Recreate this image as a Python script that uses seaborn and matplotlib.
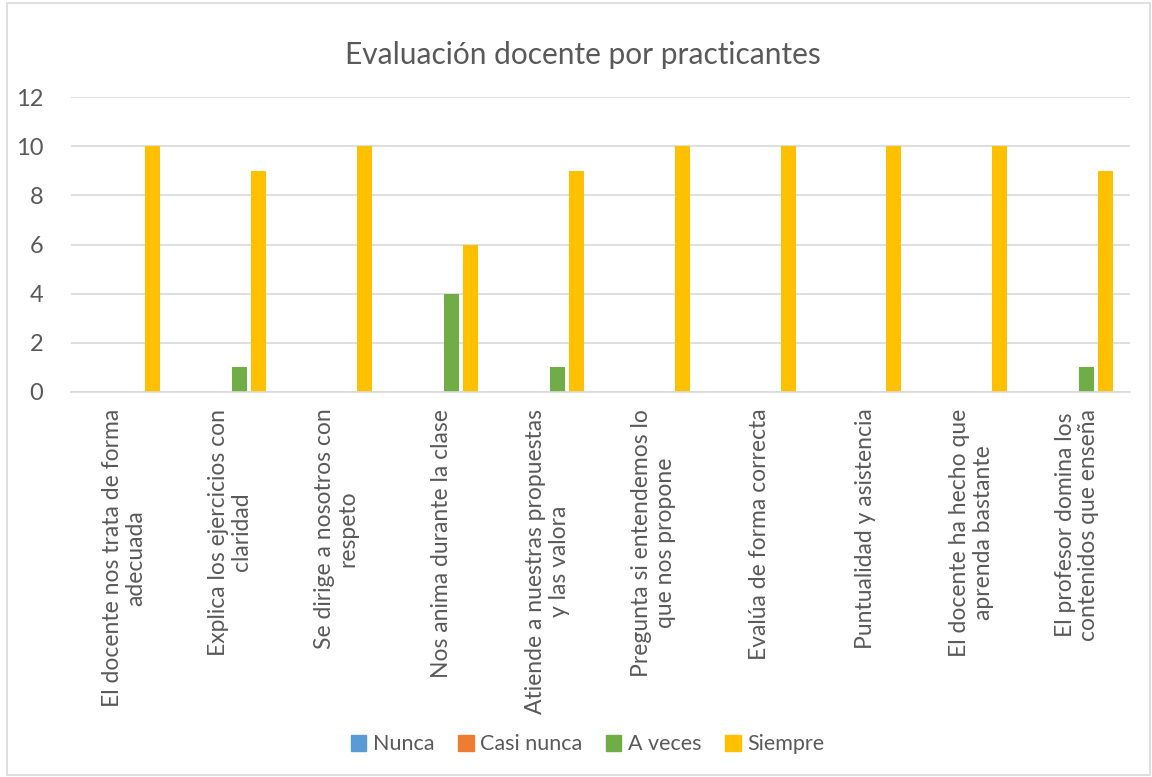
import pandas as pd
import matplotlib.pyplot as plt
import seaborn as sns
from matplotlib.patches import Rectangle

# data
categories = [
    "El docente nos trata de forma\nadecuada",
    "Explica los ejercicios con\nclaridad",
    "Se dirige a nosotros con\nrespeto",
    "Nos anima durante la clase",
    "Atiende a nuestras propuestas\ny las valora",
    "Pregunta si entendemos lo\nque nos propone",
    "Evalúa de forma correcta",
    "Puntualidad y asistencia",
    "El docente ha hecho que\naprenda bastante",
    "El profesor domina los\ncontenidos que enseña",
]
series = ["Nunca", "Casi nunca", "A veces", "Siempre"]
nunca = [0, 0, 0, 0, 0, 0, 0, 0, 0, 0]
casi_nunca = [0, 0, 0, 0, 0, 0, 0, 0, 0, 0]
a_veces = [0, 1, 0, 4, 1, 0, 0, 0, 0, 1]
siempre = [10, 9, 10, 6, 9, 10, 10, 10, 10, 9]
colors = ["#5B9BD5", "#ED7D31", "#70AD47", "#FFC000"]

df = pd.DataFrame({
    "Categoria": categories * 4,
    "Serie": [s for s in series for _ in categories],
    "Valor": nunca + casi_nunca + a_veces + siempre,
})

sns.set_style("white")
plt.rcParams['font.family'] = ['Lato', 'DejaVu Sans']

fig = plt.figure(figsize=(11.52, 7.77), dpi=100)
ax = fig.add_axes([0.0617, 0.4955, 0.9193, 0.3795])

sns.barplot(
    data=df, x="Categoria", y="Valor", hue="Serie",
    order=categories, hue_order=series, palette=colors, saturation=1,
    width=0.72, gap=0.21, linewidth=0, ax=ax, legend=False
)

ax.set_ylim(0, 12)
ax.set_yticks(range(0, 13, 2))
ax.set_xlim(-0.5, len(categories) - 0.5)
ax.yaxis.grid(True, color="#d9d9d9", linewidth=1.2)
ax.set_axisbelow(True)
for side in ["top", "right", "left"]:
    ax.spines[side].set_visible(False)
ax.spines["bottom"].set_color("#d9d9d9")
ax.spines["bottom"].set_linewidth(1.2)
ax.tick_params(length=0, labelsize=17, colors="#595959", pad=12)
ax.tick_params(axis="y", pad=20)
ax.set_xticks(range(len(categories)))
ax.set_xticklabels(categories, rotation=90, ha="center", va="top",
                   multialignment="center", fontsize=16.5, linespacing=1.15)
ax.set_xlabel("")
ax.set_ylabel("")

fig.text(0.506, 0.929, "Evaluación docente por practicantes",
         ha="center", va="center", fontsize=21.5, color="#595959")

handles = [Rectangle((0, 0), 1, 1, color=c) for c in colors]
fig.legend(handles, series, loc="center", bbox_to_anchor=(0.51, 0.042),
           ncol=4, frameon=False, fontsize=15.5, handlelength=0.72,
           handleheight=0.72, handletextpad=0.3, columnspacing=1.1,
           labelcolor="#595959")

fig.patches.append(Rectangle((0.006, 0.003), 0.992, 0.993, transform=fig.transFigure,
                             fill=False, edgecolor="#d9d9d9", linewidth=1.2))

fig.savefig("out.png", dpi=100, facecolor="white")
